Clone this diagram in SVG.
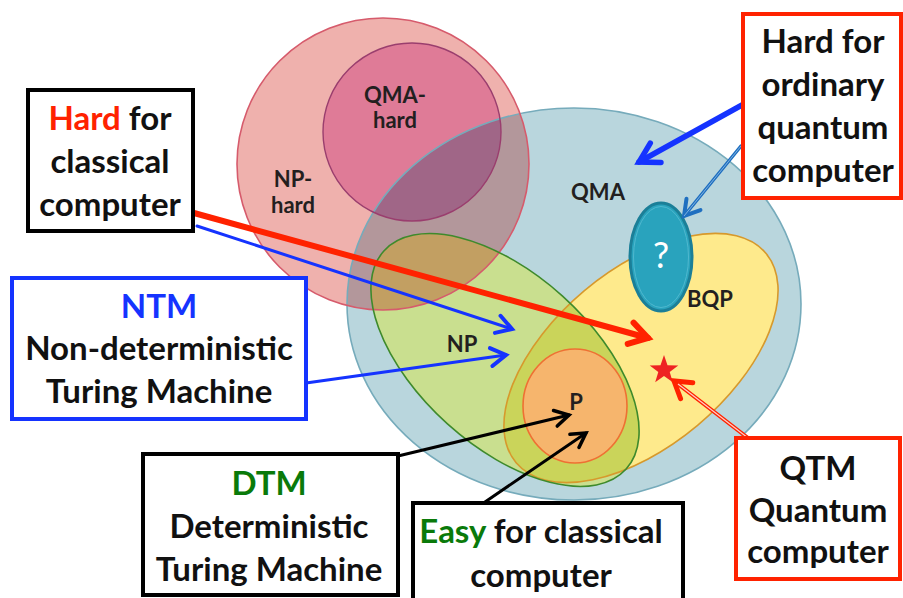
<svg xmlns="http://www.w3.org/2000/svg" xmlns:xlink="http://www.w3.org/1999/xlink" width="903" height="598" viewBox="0 0 903 598">
  <style>
    .box { fill: #ffffff; stroke-width: 4; }
    .bt { font-family: Lato, "Open Sans", sans-serif; font-weight: bold; font-size: 33px; fill: #111111; text-anchor: middle; }
    .lbl { font-family: Lato, "Open Sans", sans-serif; font-weight: bold; font-size: 22px; fill: #231f20; text-anchor: middle; }
    .edge { fill: none; stroke-linecap: round; }
    .red { fill: #ff2200; }
    .blue { fill: #1533ff; }
    .green { fill: #0a7a0a; }
  </style>
  <defs>
    <ellipse id="qma" cx="574" cy="304" rx="227" ry="196"/>
    <circle id="nph" cx="383" cy="164" r="146"/>
    <circle id="qmah" cx="412" cy="132" r="89"/>
    <ellipse id="np" cx="505" cy="360" rx="163" ry="86" transform="rotate(42 505 360)"/>
    <ellipse id="bqp" cx="641" cy="358" rx="163" ry="88" transform="rotate(-40 641 358)"/>
    <clipPath id="clipQma"><use xlink:href="#qma"/></clipPath>
    <clipPath id="clipNph"><use xlink:href="#nph"/></clipPath>
    <clipPath id="clipNp"><use xlink:href="#np"/></clipPath>
    <marker id="ahRed" markerUnits="userSpaceOnUse" markerWidth="40" markerHeight="40" refX="0" refY="0" orient="auto" overflow="visible">
      <path d="M-18,-11 L0,0 L-18,11" fill="none" stroke="#ff2200" stroke-width="6" stroke-linecap="round" stroke-linejoin="miter"/>
    </marker>
    <marker id="ahBlue" markerUnits="userSpaceOnUse" markerWidth="40" markerHeight="40" refX="0" refY="0" orient="auto" overflow="visible">
      <path d="M-15,-9 L0,0 L-15,9" fill="none" stroke="#1533ff" stroke-width="4" stroke-linecap="round"/>
    </marker>
    <marker id="ahBlueBig" markerUnits="userSpaceOnUse" markerWidth="40" markerHeight="40" refX="0" refY="0" orient="auto" overflow="visible">
      <path d="M-19,-11 L0,0 L-19,11" fill="none" stroke="#1533ff" stroke-width="5.5" stroke-linecap="round"/>
    </marker>
    <marker id="ahSteel" markerUnits="userSpaceOnUse" markerWidth="40" markerHeight="40" refX="0" refY="0" orient="auto" overflow="visible">
      <path d="M-15,-9 L0,0 L-15,9" fill="none" stroke="#1f6fc0" stroke-width="4" stroke-linecap="round"/>
    </marker>
    <marker id="ahBlack" markerUnits="userSpaceOnUse" markerWidth="40" markerHeight="40" refX="0" refY="0" orient="auto" overflow="visible">
      <path d="M-14,-8 L0,0 L-14,8" fill="none" stroke="#000000" stroke-width="3.5" stroke-linecap="round"/>
    </marker>
    <marker id="ahRedThin" markerUnits="userSpaceOnUse" markerWidth="40" markerHeight="40" refX="0" refY="0" orient="auto" overflow="visible">
      <path d="M-16,-10 L0,0 L-16,10" fill="none" stroke="#ff2200" stroke-width="5" stroke-linecap="round"/>
    </marker>
  </defs>

  <!-- complexity-class regions: fills -->
  <g id="regions">
    <use xlink:href="#qma" fill="#b9d6dd"/>
    <use xlink:href="#nph" fill="#efb1ad"/>
    <use xlink:href="#nph" fill="#b3979b" clip-path="url(#clipQma)"/>
    <use xlink:href="#qmah" fill="#df7b97"/>
    <use xlink:href="#qmah" fill="#a06687" clip-path="url(#clipQma)"/>
    <use xlink:href="#bqp" fill="#feea8c"/>
    <use xlink:href="#np" fill="#c9df8f"/>
    <g clip-path="url(#clipNph)"><use xlink:href="#np" fill="#c29f62"/></g>
    <g clip-path="url(#clipNp)"><use xlink:href="#bqp" fill="#cad45a"/></g>
    <!-- outlines -->
    <use xlink:href="#qma" fill="none" stroke="#76abbb" stroke-width="1.6"/>
    <use xlink:href="#nph" fill="none" stroke="#d65b6c" stroke-width="1.6"/>
    <use xlink:href="#qmah" fill="none" stroke="#9a3e6e" stroke-width="1.4"/>
    <use xlink:href="#bqp" fill="none" stroke="#d7992c" stroke-width="1.6"/>
    <use xlink:href="#np" fill="none" stroke="#3e8a2c" stroke-width="1.6"/>
  </g>

  <g id="p-class">
    <ellipse cx="575" cy="406" rx="52" ry="57" fill="#f6b56d" stroke="#ef7033" stroke-width="1.6"/>
  </g>

  <g id="unknown-class">
    <ellipse cx="661" cy="257" rx="31" ry="54" fill="#29a3bd" stroke="#1b7f98" stroke-width="3"/>
    <ellipse cx="661" cy="257" rx="27.5" ry="50.5" fill="none" stroke="#4fb8cf" stroke-width="1"/>
    <text x="661" y="268" font-family="Lato, 'Open Sans', sans-serif" font-size="36" fill="#ffffff" text-anchor="middle">?</text>
  </g>

  <g id="region-labels">
    <text class="lbl" x="395" y="103">QMA-</text>
    <text class="lbl" x="395" y="128">hard</text>
    <text class="lbl" x="293" y="187">NP-</text>
    <text class="lbl" x="293" y="213">hard</text>
    <text class="lbl" x="598" y="200">QMA</text>
    <text class="lbl" x="710" y="307">BQP</text>
    <text class="lbl" x="462" y="352">NP</text>
    <text class="lbl" x="576" y="410">P</text>
  </g>

  <g id="qtm-star">
    <polygon points="664,355 667.5,365.2 678.3,365.4 669.7,371.9 672.8,382.2 664,376 655.2,382.2 658.3,371.9 649.7,365.4 660.5,365.2" fill="#ee2222"/>
  </g>

  <!-- connectors -->
  <g id="connectors">
    <line class="edge" x1="194" y1="213" x2="648" y2="338" stroke="#ff2200" stroke-width="6" marker-end="url(#ahRed)"/>
    <line class="edge" x1="197" y1="226" x2="512" y2="329" stroke="#1533ff" stroke-width="3" marker-end="url(#ahBlue)"/>
    <line class="edge" x1="306" y1="383" x2="506" y2="355" stroke="#1533ff" stroke-width="3" marker-end="url(#ahBlue)"/>
    <line class="edge" x1="742" y1="105" x2="639" y2="162" stroke="#1533ff" stroke-width="5.5" marker-end="url(#ahBlueBig)"/>
    <line class="edge" x1="741" y1="146" x2="684" y2="216" stroke="#1f6fc0" stroke-width="3.5" marker-end="url(#ahSteel)"/>
    <line x1="741" y1="146" x2="684" y2="216" stroke="#7fb2e0" stroke-width="1"/>
    <line class="edge" x1="748" y1="438" x2="674" y2="381" stroke="#ff2200" stroke-width="4" marker-end="url(#ahRedThin)"/>
    <line x1="748" y1="438" x2="678" y2="384" stroke="#ffd0c8" stroke-width="1.2"/>
    <line class="edge" x1="398" y1="456" x2="569" y2="415" stroke="#000000" stroke-width="3" marker-end="url(#ahBlack)"/>
    <line class="edge" x1="485" y1="502" x2="586" y2="433" stroke="#000000" stroke-width="3" marker-end="url(#ahBlack)"/>
  </g>

  <g id="hard-classical">
    <rect class="box" x="28" y="90" width="165" height="141" stroke="#000000"/>
    <text class="bt" x="110" y="130"><tspan class="red">Hard</tspan> for</text>
    <text class="bt" x="110" y="173">classical</text>
    <text class="bt" x="110" y="216">computer</text>
  </g>

  <g id="ntm">
    <rect class="box" x="12" y="278" width="294" height="141" stroke="#1533ff"/>
    <text class="bt" x="159" y="318"><tspan class="blue">NTM</tspan></text>
    <text class="bt" x="159" y="360">Non-deterministic</text>
    <text class="bt" x="159" y="403">Turing Machine</text>
  </g>

  <g id="hard-quantum">
    <rect class="box" x="743" y="14" width="158" height="184" stroke="#ff2200"/>
    <text class="bt" x="823" y="53">Hard for</text>
    <text class="bt" x="823" y="96">ordinary</text>
    <text class="bt" x="823" y="139">quantum</text>
    <text class="bt" x="823" y="182">computer</text>
  </g>

  <g id="dtm">
    <rect class="box" x="143" y="454" width="255" height="141" stroke="#000000"/>
    <text class="bt" x="269" y="495"><tspan class="green">DTM</tspan></text>
    <text class="bt" x="269" y="538">Deterministic</text>
    <text class="bt" x="269" y="581">Turing Machine</text>
  </g>

  <g id="easy-classical">
    <rect class="box" x="413" y="503" width="270" height="110" stroke="#000000"/>
    <text class="bt" x="541" y="543"><tspan class="green">Easy</tspan> for classical</text>
    <text class="bt" x="541" y="587">computer</text>
  </g>

  <g id="qtm">
    <rect class="box" x="736" y="438" width="164" height="141" stroke="#ff2200"/>
    <text class="bt" x="818" y="480">QTM</text>
    <text class="bt" x="818" y="522">Quantum</text>
    <text class="bt" x="818" y="563">computer</text>
  </g>
</svg>
